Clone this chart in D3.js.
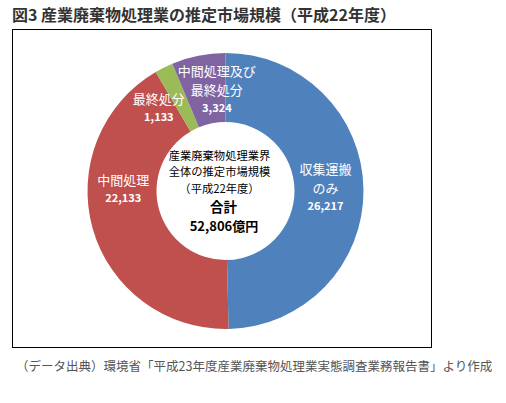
<!DOCTYPE html>
<html>
<head>
<meta charset="utf-8">
<script src="https://cdn.jsdelivr.net/npm/d3@7"></script>
<style>
  body { margin: 0; background: #fff; font-family: "Noto Sans CJK JP", "Noto Sans", sans-serif; }
</style>
</head>
<body>
<div id="chart"></div>
<script>
// chart data
var categories = ["収集運搬のみ", "中間処理", "最終処分", "中間処理及び最終処分"];
var values = [26217, 22133, 1133, 3324];
var labelLines = [["収集運搬", "のみ"], ["中間処理"], ["最終処分"], ["中間処理及び", "最終処分"]];
var colors = ["#4f81bd", "#c0504d", "#9bbb59", "#8064a2"];
var centerLines = ["産業廃棄物処理業界", "全体の推定市場規模", "（平成22年度）"];
var totalLabel = "52,806億円";

var width = 506, height = 403;
var cx = 225.5, cy = 191, outerR = 138, innerR = 69;

var svg = d3.select("#chart").append("svg")
    .attr("width", width)
    .attr("height", height);

// title
svg.append("text")
    .attr("x", 12)
    .attr("y", 20.5)
    .style("font-size", "16px")
    .style("font-weight", "bold")
    .style("fill", "#333")
    .text("図3 産業廃棄物処理業の推定市場規模（平成22年度）");

// frame
svg.append("rect")
    .attr("x", 12.5)
    .attr("y", 29.5)
    .attr("width", 419)
    .attr("height", 318)
    .attr("fill", "none")
    .attr("stroke", "#000")
    .attr("stroke-width", 1);

var data = categories.map(function(c, i) {
  return {name: c, value: values[i], lines: labelLines[i], color: colors[i]};
});

var pie = d3.pie()
    .sort(null)
    .value(function(d) { return d.value; });

var arc = d3.arc()
    .innerRadius(innerR)
    .outerRadius(outerR);

var g = svg.append("g")
    .attr("transform", "translate(" + cx + "," + cy + ")");

var arcs = pie(data);

g.selectAll("path")
    .data(arcs)
  .enter().append("path")
    .attr("d", arc)
    .attr("fill", function(d) { return d.data.color; });

// labels: placed along each slice's mid angle, then nudged like Excel does
var labelR = 100;
var labelShift = [[0, -2], [-6, -29], [-22, 7], [11, -3]];

var fmt = d3.format(",");

arcs.forEach(function(d, i) {
  var a = (d.startAngle + d.endAngle) / 2;
  var x = Math.sin(a) * labelR + labelShift[i][0];
  var y = -Math.cos(a) * labelR + labelShift[i][1];
  var lines = d.data.lines;
  var numY = (lines.length - 1) * 19 + 17.5;
  var t = g.append("g").attr("transform", "translate(" + x + "," + (y - numY / 2) + ")");
  lines.forEach(function(l, j) {
    t.append("text")
        .attr("y", j * 19)
        .attr("dy", "0.35em")
        .attr("text-anchor", "middle")
        .style("font-size", "13px")
        .style("fill", "#fff")
        .text(l);
  });
  t.append("text")
      .attr("y", numY)
      .attr("dy", "0.35em")
      .attr("text-anchor", "middle")
      .style("font-size", "11px")
      .style("font-weight", "bold")
      .style("fill", "#fff")
      .text(fmt(d.data.value));
});

// center text
centerLines.forEach(function(l, j) {
  svg.append("text")
      .attr("x", 219.5)
      .attr("y", 156 + j * 16.5)
      .attr("dy", "0.35em")
      .attr("text-anchor", "middle")
      .style("font-size", "11.3px")
      .style("fill", "#000")
      .text(l);
});

svg.append("text")
    .attr("x", 223.5)
    .attr("y", 207)
    .attr("dy", "0.35em")
    .attr("text-anchor", "middle")
    .style("font-size", "13.5px")
    .style("font-weight", "bold")
    .text("合計");

svg.append("text")
    .attr("x", 224)
    .attr("y", 226)
    .attr("dy", "0.35em")
    .attr("text-anchor", "middle")
    .style("font-size", "13px")
    .style("font-weight", "bold")
    .text(totalLabel);

// source note
svg.append("text")
    .attr("x", 16)
    .attr("y", 371)
    .style("font-size", "12.5px")
    .style("fill", "#555")
    .text("（データ出典）環境省「平成23年度産業廃棄物処理業実態調査業務報告書」より作成");
</script>
</body>
</html>
